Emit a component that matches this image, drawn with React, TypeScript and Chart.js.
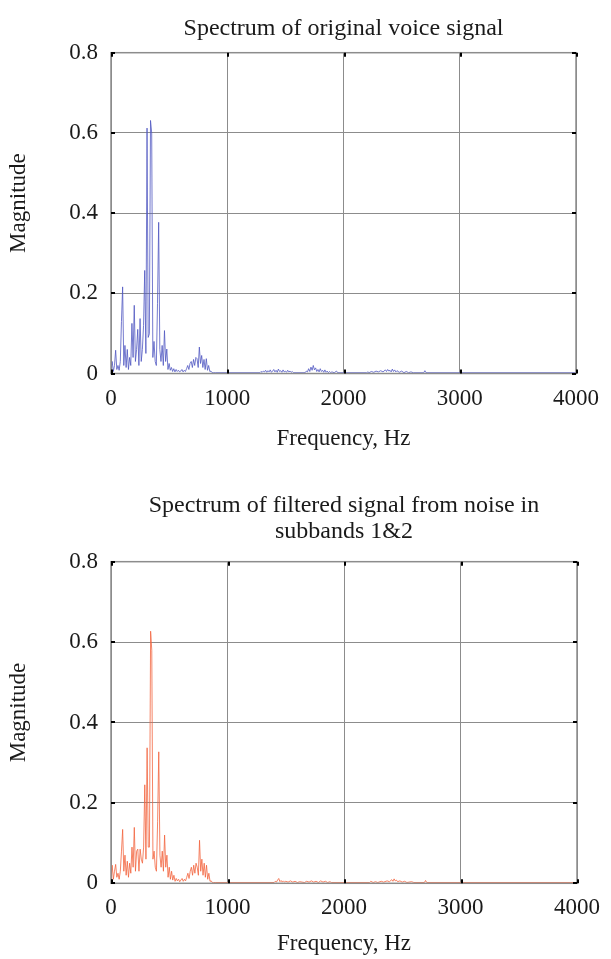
import React, { useEffect, useRef } from 'react';
import { Chart, registerables } from 'chart.js';

Chart.register(...registerables);

// ---------- data ----------
const lowFreqs = [
  0, 10, 20, 30, 40, 50, 60, 70, 80, 90,
  100, 110, 120, 130, 140, 150, 160, 170, 180, 190,
  200, 210, 220, 230, 240, 250, 260, 270, 280, 290,
  300, 310, 320, 330, 340, 350, 360, 370, 380, 390,
  400, 410, 420, 430, 440, 450, 460, 470, 480, 490,
  500, 510, 520, 530, 540, 550, 560, 570, 580, 590,
  600, 610, 620, 630, 640, 650, 660, 670, 680, 690,
  700, 710, 720, 730, 740, 750, 760, 770, 780, 790,
  800, 810, 820, 830, 840, 850, 860, 870, 880,
];

const blueLowMag = [
  0.01, 0.03, 0.005, 0.02, 0.058, 0.01, 0.02, 0.008, 0.03, 0.13,
  0.216, 0.02, 0.07, 0.015, 0.06, 0.01, 0.04, 0.02, 0.125, 0.04,
  0.17, 0.03, 0.06, 0.11, 0.02, 0.137, 0.03, 0.06, 0.12, 0.257,
  0.05, 0.612, 0.09, 0.099, 0.631, 0.6, 0.04, 0.08, 0.03, 0.02,
  0.175, 0.377, 0.06, 0.03, 0.07, 0.02, 0.107, 0.03, 0.061, 0.01,
  0.025, 0.008, 0.015, 0.005, 0.012, 0.004, 0.01, 0.005, 0.008, 0.004,
  0.006, 0.01, 0.004, 0.008, 0.005, 0.012, 0.02, 0.01, 0.025, 0.03,
  0.015, 0.035, 0.02, 0.04, 0.037, 0.015, 0.066, 0.025, 0.045, 0.015,
  0.035, 0.01, 0.037, 0.008, 0.02, 0.005, 0.006, 0.002, 0.002,
];

const redLowMag = [
  0.01, 0.045, 0.01, 0.03, 0.047, 0.015, 0.025, 0.01, 0.03, 0.08,
  0.134, 0.03, 0.07, 0.02, 0.055, 0.015, 0.05, 0.025, 0.09, 0.04,
  0.139, 0.03, 0.08, 0.085, 0.03, 0.085, 0.06, 0.05, 0.09, 0.245,
  0.06, 0.337, 0.09, 0.09, 0.627, 0.58, 0.06, 0.08, 0.04, 0.03,
  0.153, 0.327, 0.07, 0.04, 0.08, 0.03, 0.12, 0.04, 0.07, 0.015,
  0.04, 0.01, 0.03, 0.008, 0.02, 0.005, 0.012, 0.006, 0.01, 0.004,
  0.008, 0.012, 0.005, 0.01, 0.006, 0.015, 0.025, 0.012, 0.03, 0.04,
  0.02, 0.045, 0.025, 0.05, 0.04, 0.02, 0.107, 0.03, 0.06, 0.02,
  0.05, 0.015, 0.045, 0.01, 0.025, 0.005, 0.006, 0.002, 0.002,
];

const blueHighFreqs = [
  900, 1280, 1290, 1300, 1310, 1320, 1330, 1340, 1350, 1360, 1370, 1380, 1390, 1400, 1410,
  1420, 1430, 1440, 1450, 1460, 1470, 1480, 1490, 1500, 1510, 1520, 1530, 1540, 1550, 1560, 1570,
  1670, 1680, 1690, 1700, 1710, 1720, 1730, 1740, 1750, 1760, 1770, 1780, 1790, 1800, 1810,
  1820, 1830, 1840, 1850, 1860, 1870, 1880, 1890, 1900, 1920, 1940, 1950,
  2200, 2210, 2220, 2240, 2260, 2280, 2300, 2320, 2340, 2360, 2370, 2380, 2390, 2400,
  2410, 2420, 2430, 2440, 2450, 2460, 2480, 2500, 2520, 2540, 2560, 2580, 2600,
  2690, 2700, 2710, 4000,
];
const blueHighMag = [
  0.002, 0.002, 0.005, 0.003, 0.006, 0.004, 0.008, 0.003, 0.007, 0.004, 0.009, 0.003, 0.006, 0.01, 0.004,
  0.008, 0.003, 0.011, 0.005, 0.007, 0.003, 0.009, 0.004, 0.006, 0.003, 0.008, 0.004, 0.006, 0.003, 0.005, 0.002,
  0.002, 0.006, 0.004, 0.012, 0.005, 0.016, 0.008, 0.02, 0.009, 0.014, 0.005, 0.01, 0.004, 0.012, 0.005,
  0.008, 0.003, 0.009, 0.003, 0.006, 0.002, 0.005, 0.002, 0.004, 0.002, 0.006, 0.002,
  0.002, 0.004, 0.002, 0.005, 0.003, 0.006, 0.004, 0.007, 0.004, 0.009, 0.005, 0.01, 0.006, 0.008,
  0.004, 0.011, 0.005, 0.009, 0.004, 0.007, 0.003, 0.006, 0.002, 0.005, 0.002, 0.004, 0.002,
  0.002, 0.007, 0.002, 0.002,
];

const redHighFreqs = [
  900, 1400, 1410, 1420, 1430, 1440, 1450, 1460, 1470, 1480, 1490, 1500,
  1520, 1540, 1560, 1580, 1600, 1620, 1640, 1660, 1680, 1700, 1720, 1740, 1760, 1780,
  1800, 1820, 1840, 1860, 1880, 1890,
  2220, 2230, 2250, 2270, 2290, 2320, 2340, 2370, 2390, 2410, 2420, 2430, 2440, 2450,
  2460, 2480, 2500, 2520, 2540, 2580, 2600,
  2690, 2700, 2710, 4000,
];
const redHighMag = [
  0.002, 0.002, 0.005, 0.003, 0.008, 0.012, 0.004, 0.007, 0.003, 0.006, 0.003, 0.005,
  0.003, 0.006, 0.003, 0.005, 0.002, 0.004, 0.003, 0.002, 0.005, 0.003, 0.006, 0.003, 0.005, 0.002,
  0.006, 0.003, 0.005, 0.002, 0.004, 0.002,
  0.002, 0.005, 0.002, 0.004, 0.002, 0.005, 0.003, 0.006, 0.004, 0.009, 0.005, 0.011, 0.006, 0.008,
  0.004, 0.006, 0.003, 0.005, 0.002, 0.004, 0.002,
  0.002, 0.007, 0.002, 0.002,
];

const xTickLabels = ['0', '1000', '2000', '3000', '4000'];
const yTickLabels = ['0', '0.2', '0.4', '0.6', '0.8'];
const title1 = 'Spectrum of original voice signal';
const title2 = ['Spectrum of filtered signal from noise in', 'subbands 1&2'];
const xTitle = 'Frequency, Hz';
const yTitle = 'Magnitude';

const blueColor = '#5058c2';
const redColor = '#f2653f';

// ---------- helpers ----------
const FONT = "'Liberation Serif', 'Times New Roman', Times, serif";
const TEXT_COLOR = '#1a1a1a';

function toPoints(fa: number[], ma: number[], fb: number[], mb: number[]) {
  const a = fa.map((f, i) => ({ x: f, y: ma[i] }));
  const b = fb.map((f, i) => ({ x: f, y: mb[i] }));
  return a.concat(b);
}

const framePlugin = {
  id: 'frame',
  afterDatasetsDraw(chart: any) {
    const { ctx, chartArea, scales } = chart;
    const { left, right, top, bottom } = chartArea;
    const xs = scales.x;
    const ys = scales.y;
    ctx.save();
    ctx.strokeStyle = '#8c8c8c';
    ctx.lineWidth = 1.5;
    ctx.strokeRect(left, top, right - left, bottom - top);
    ctx.strokeStyle = '#000';
    ctx.lineWidth = 2;
    ctx.beginPath();
    xs.ticks.forEach((t: any) => {
      const px = Math.round(xs.getPixelForValue(t.value)) + 1;
      ctx.moveTo(px, top);
      ctx.lineTo(px, top + 4);
      ctx.moveTo(px, bottom);
      ctx.lineTo(px, bottom - 4);
    });
    ys.ticks.forEach((t: any) => {
      const py = Math.round(ys.getPixelForValue(t.value));
      ctx.moveTo(left, py);
      ctx.lineTo(left + 4, py);
      ctx.moveTo(right, py);
      ctx.lineTo(right - 4, py);
    });
    ctx.stroke();
    ctx.restore();
  },
};

// y-axis title, drawn a little above the centre of the axis like the reference
const yTitlePlugin = {
  id: 'yTitleText',
  afterDraw(chart: any) {
    const { ctx, chartArea } = chart;
    const cy = (chartArea.top + chartArea.bottom) / 2 - 10;
    ctx.save();
    ctx.translate(19, cy);
    ctx.rotate(-Math.PI / 2);
    ctx.fillStyle = TEXT_COLOR;
    ctx.font = `23px ${FONT}`;
    ctx.textAlign = 'center';
    ctx.textBaseline = 'middle';
    ctx.fillText(yTitle, 0, 0);
    ctx.restore();
  },
};

type Props = {
  top: number;
  height: number;
  points: { x: number; y: number }[];
  color: string;
  title: string | string[];
  titleLineHeight: number;
  titlePadTop: number;
  titlePadBottom: number;
  xScaleHeight: number;
  xTickPad: number;
  xTitlePadBottom: number;
};

function SpectrumChart(p: Props) {
  const ref = useRef<HTMLCanvasElement | null>(null);
  useEffect(() => {
    if (!ref.current) return;
    const chart = new Chart(ref.current, {
      type: 'line',
      data: {
        datasets: [
          {
            data: p.points,
            borderColor: p.color,
            borderWidth: 0.8,
            pointRadius: 0,
            tension: 0,
            fill: false,
          },
        ],
      },
      options: {
        animation: false,
        responsive: false,
        devicePixelRatio: 1,
        layout: { padding: { left: 0, right: 29.3, top: 0, bottom: 0 } },
        plugins: {
          legend: { display: false },
          tooltip: { enabled: false },
          title: {
            display: true,
            fullSize: false,
            text: p.title,
            color: TEXT_COLOR,
            font: { family: FONT, size: 24, weight: 'normal', lineHeight: p.titleLineHeight },
            padding: { top: p.titlePadTop, bottom: p.titlePadBottom },
          },
        },
        scales: {
          x: {
            type: 'linear',
            min: 0,
            max: 4000,
            afterFit: (s: any) => {
              s.height = p.xScaleHeight;
            },
            ticks: {
              stepSize: 1000,
              padding: p.xTickPad,
              color: TEXT_COLOR,
              font: { family: FONT, size: 23 },
              maxRotation: 0,
              callback: (_v: any, i: number) => xTickLabels[i],
            },
            grid: { color: '#8c8c8c', lineWidth: 1, drawTicks: false },
            border: { display: false },
            title: {
              display: true,
              text: xTitle,
              color: TEXT_COLOR,
              font: { family: FONT, size: 23 },
              padding: { top: 0, bottom: p.xTitlePadBottom },
            },
          },
          y: {
            type: 'linear',
            min: 0,
            max: 0.8,
            afterFit: (s: any) => {
              s.width = 111;
            },
            ticks: {
              stepSize: 0.2,
              padding: 13,
              color: TEXT_COLOR,
              font: { family: FONT, size: 23 },
              callback: (_v: any, i: number) => yTickLabels[i],
            },
            grid: { color: '#8c8c8c', lineWidth: 1, drawTicks: false },
            border: { display: false },
            title: { display: false },
          },
        },
      },
      plugins: [framePlugin, yTitlePlugin],
    } as any);
    return () => chart.destroy();
  }, []);
  return (
    <canvas
      ref={ref}
      width={611}
      height={p.height}
      style={{ position: 'absolute', left: 0, top: p.top, width: 611, height: p.height, display: 'block' }}
    />
  );
}

export default function App() {
  const bluePoints = toPoints(lowFreqs, blueLowMag, blueHighFreqs, blueHighMag);
  const redPoints = toPoints(lowFreqs, redLowMag, redHighFreqs, redHighMag);
  return (
    <div style={{ position: 'absolute', left: 0, top: 0, width: 611, height: 959, background: '#fff', overflow: 'hidden' }}>
      <SpectrumChart
        top={0}
        height={470}
        points={bluePoints}
        color={blueColor}
        title={title1}
        titleLineHeight={1.2}
        titlePadTop={14.6}
        titlePadBottom={9.3}
        xScaleHeight={96.5}
        xTickPad={12}
        xTitlePadBottom={17.5}
      />
      <SpectrumChart
        top={470}
        height={489}
        points={redPoints}
        color={redColor}
        title={title2}
        titleLineHeight={1.083}
        titlePadTop={23}
        titlePadBottom={16.7}
        xScaleHeight={75.7}
        xTickPad={11}
        xTitlePadBottom={1.5}
      />
    </div>
  );
}
